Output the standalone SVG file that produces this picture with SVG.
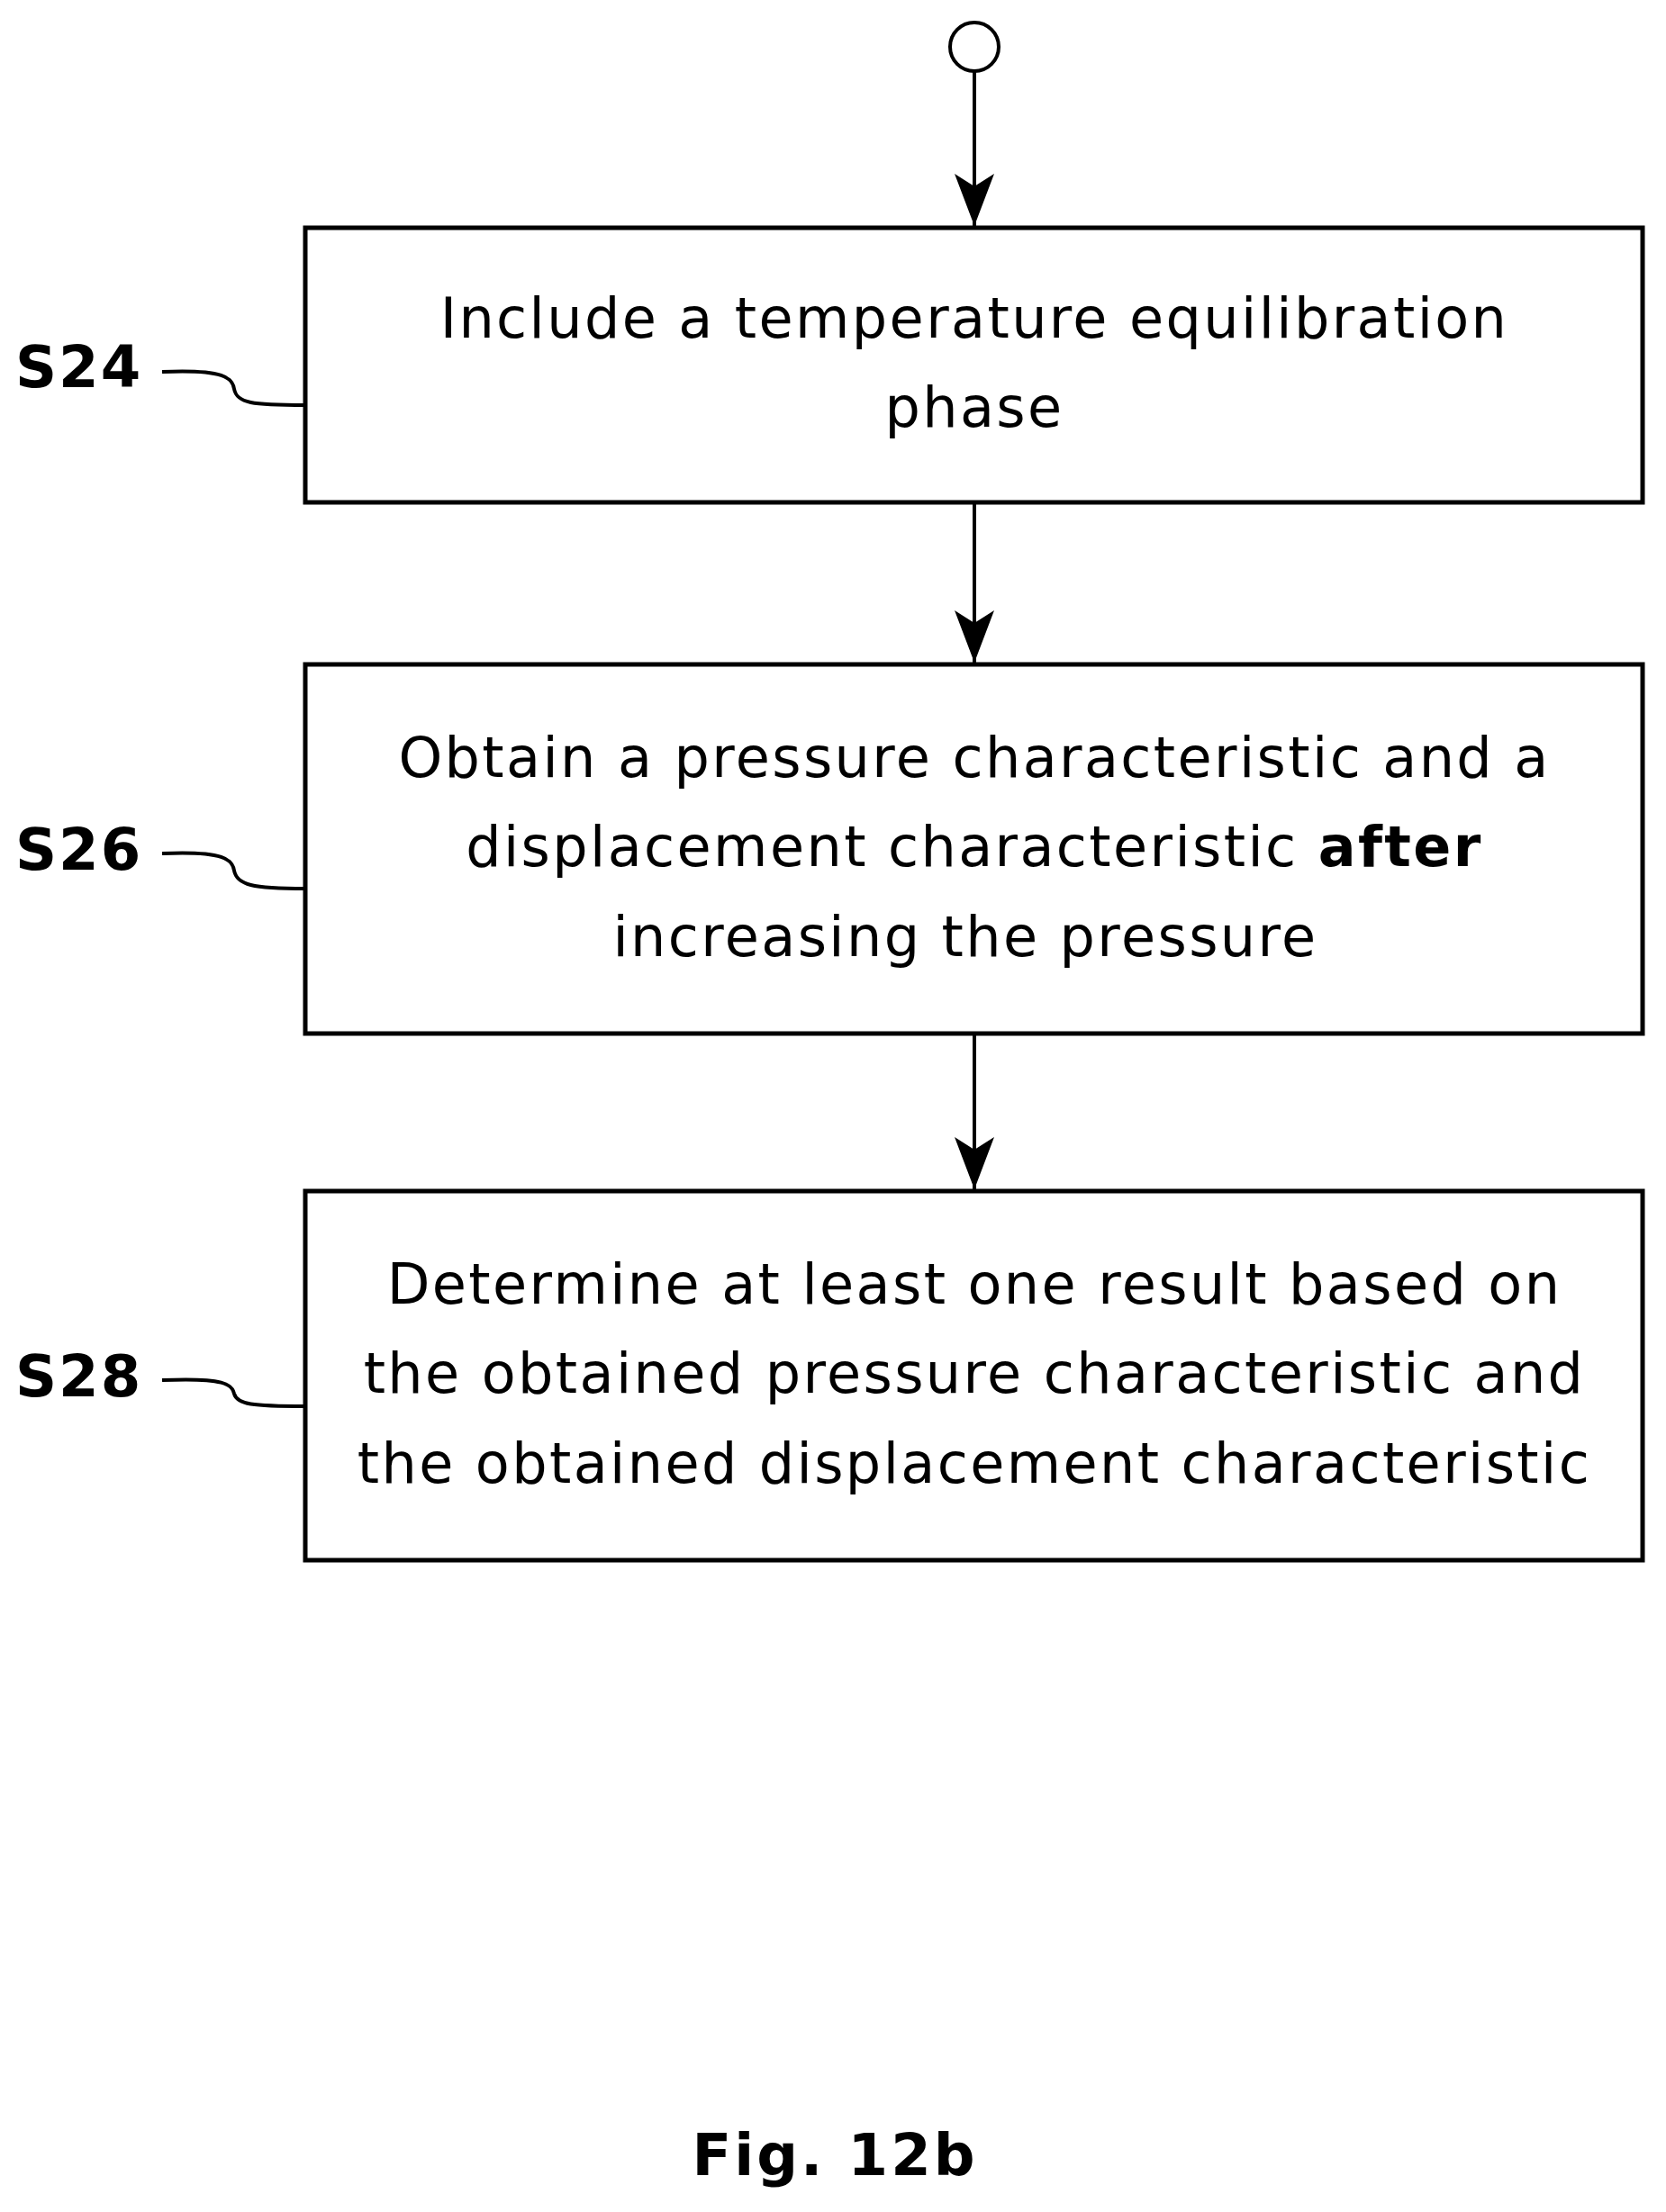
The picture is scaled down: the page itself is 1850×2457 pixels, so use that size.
<svg xmlns="http://www.w3.org/2000/svg" width="1850" height="2457" viewBox="0 0 1850 2457">
<style>
.box{fill:#fff;stroke:#000;stroke-width:5}
.t{font-family:"DejaVu Sans",sans-serif;font-size:62px;letter-spacing:2.4px;text-anchor:middle;fill:#000}
.lbl{font-family:"DejaVu Sans",sans-serif;font-size:64px;letter-spacing:2px;font-weight:bold;fill:#000}
.ln{fill:none;stroke:#000;stroke-width:4}
</style>
<defs><marker id="ah" markerWidth="58" markerHeight="44" refX="58" refY="22" orient="auto" markerUnits="userSpaceOnUse" viewBox="0 0 58 44"><path d="M0,0 L58,22 L0,44 L14,22 Z" fill="#000"/></marker></defs>
<rect width="1850" height="2457" fill="#fff"/>
<g id="connectors">
<line class="ln" x1="1082" y1="79" x2="1082" y2="251" marker-end="url(#ah)"/>
<line class="ln" x1="1082" y1="558" x2="1082" y2="736" marker-end="url(#ah)"/>
<line class="ln" x1="1082" y1="1148" x2="1082" y2="1321" marker-end="url(#ah)"/>
<path class="ln" d="M180 413 C250 410 258 420 260 432 C263 448 280 450 339 450"/>
<path class="ln" d="M180 948 C250 945 258 955 260 967 C263 983 280 987 339 987"/>
<path class="ln" d="M180 1533 C250 1530 258 1538 260 1548 C263 1560 280 1562 339 1562"/>
</g>
<g id="start"><circle cx="1082" cy="52" r="27" fill="#fff" stroke="#000" stroke-width="4"/></g>
<g id="S24">
<rect class="box" x="339" y="253" width="1485" height="305"/>
<text class="t" x="1082" y="375">Include a temperature equilibration</text>
<text class="t" x="1082" y="474">phase</text>
<text class="lbl" x="17" y="430">S24</text>
</g>
<g id="S26">
<rect class="box" x="339" y="738" width="1485" height="410"/>
<text class="t" x="1082" y="863">Obtain a pressure characteristic and a</text>
<text class="t" x="1082" y="962">displacement characteristic <tspan font-weight="bold">after</tspan></text>
<text class="t" x="1072" y="1062">increasing the pressure</text>
<text class="lbl" x="17" y="966">S26</text>
</g>
<g id="S28">
<rect class="box" x="339" y="1323" width="1485" height="410"/>
<text class="t" x="1082" y="1448">Determine at least one result based on</text>
<text class="t" x="1082" y="1547">the obtained pressure characteristic and</text>
<text class="t" x="1082" y="1647">the obtained displacement characteristic</text>
<text class="lbl" x="17" y="1551">S28</text>
</g>
<g id="caption"><text class="lbl" x="927" y="2416" text-anchor="middle" style="letter-spacing:3px">Fig. 12b</text></g>
</svg>
